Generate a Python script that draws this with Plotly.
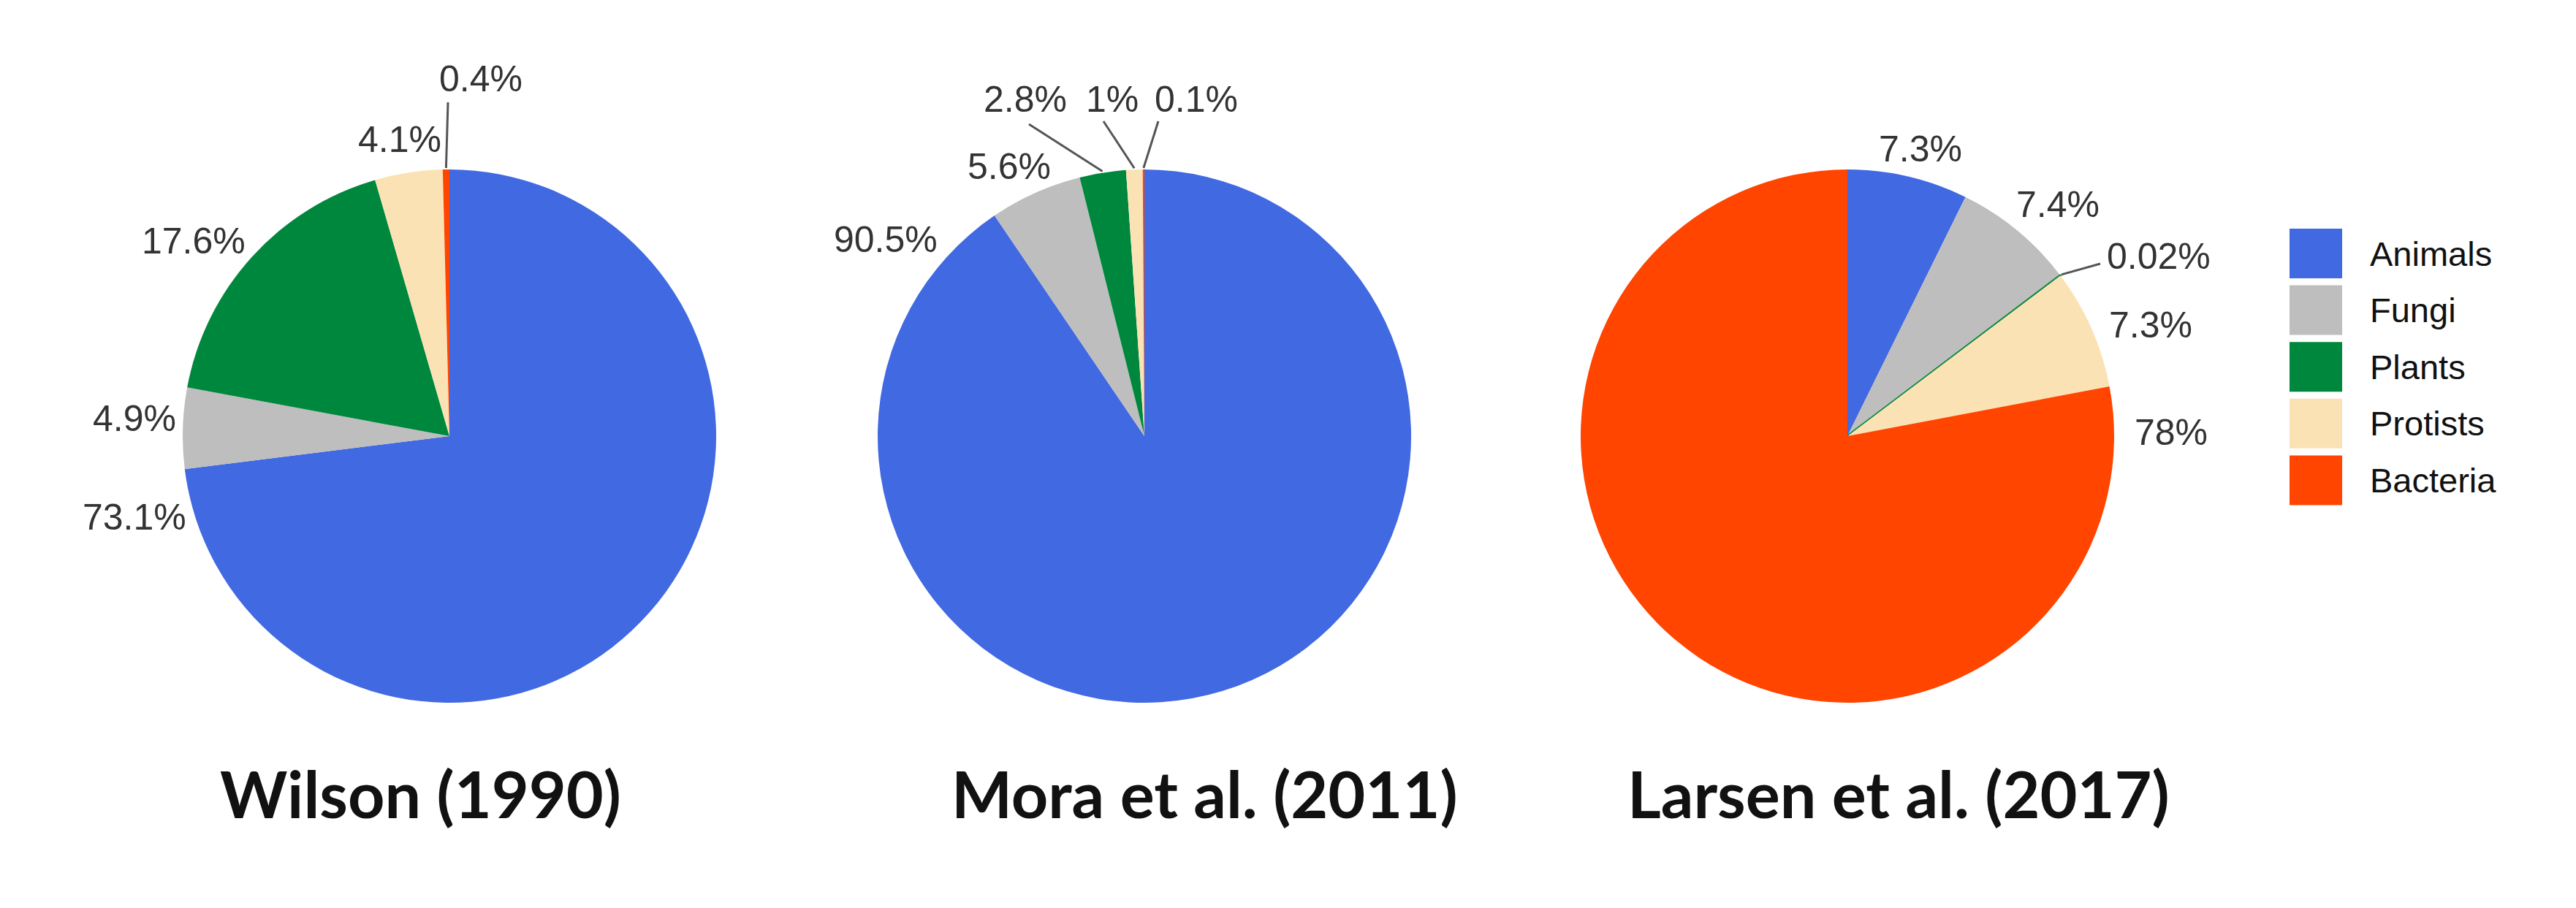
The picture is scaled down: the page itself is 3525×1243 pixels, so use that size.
import math
import plotly.graph_objects as go

# species share per kingdom, three estimates
categories = ["Animals", "Fungi", "Plants", "Protists", "Bacteria"]
colors = ["#4169E1", "#BEBEBE", "#00873E", "#FBE2B4", "#FF4500"]

studies = ["Wilson (1990)", "Mora et al. (2011)", "Larsen et al. (2017)"]
wilson_1990 = [73.1, 4.9, 17.6, 4.1, 0.4]
mora_2011 = [90.5, 5.6, 2.8, 1, 0.1]
larsen_2017 = [7.3, 7.4, 0.02, 7.3, 78]
all_values = [wilson_1990, mora_2011, larsen_2017]

W, H = 3525, 1243
pie_cx = [607, 1558, 2520]
pie_cy = 589
radius = 365
title_cx = [567, 1640, 2590]
title_y = 1078

# label centres, pixel offsets from each pie centre (Google-chart style placement)
label_offsets = [
    [(-431, 111), (-431, -24), (-350, -267), (-68, -406), (43, -489)],
    [(-354, -269), (-185, -369), (-163, -461), (-44, -461), (71, -461)],
    [(100, -393), (288, -317), (426, -246), (415, -152), (443, -5)],
]
# leader line end points for the tiny slices
leader_ends = [
    {4: (-2, -457)},
    {2: (-158, -427), 3: (-56, -431), 4: (19, -431)},
    {2: (346, -236)},
]

label_font = dict(family="Liberation Sans, Arial", size=50, color="#333333")


def px(x):
    return x / W


def py(y):
    return 1 - y / H


def slice_edge(values, k, cx, cy, r):
    total = sum(values)
    frac = (sum(values[:k]) + values[k] / 2) / total
    ang = frac * 2 * math.pi
    return cx + r * math.sin(ang), cy - r * math.cos(ang)


fig = go.Figure()

for i, values in enumerate(all_values):
    cx = pie_cx[i]
    # the 0.02% slice in Larsen is only visible as an outline
    line_w = [3 if (v / sum(values) < 0.001) else 0 for v in values]
    fig.add_trace(go.Pie(
        labels=categories,
        values=values,
        sort=False,
        direction="clockwise",
        rotation=0,
        marker=dict(colors=colors, line=dict(width=line_w, color=colors)),
        textinfo="none",
        domain=dict(x=[px(cx - radius), px(cx + radius)],
                    y=[py(pie_cy + radius), py(pie_cy - radius)]),
        showlegend=False,
        hovertemplate="%{label}: %{value}%<extra></extra>",
    ))

    for k, v in enumerate(values):
        dx, dy = label_offsets[i][k]
        fig.add_annotation(
            x=px(cx + dx), y=py(pie_cy + dy), xref="paper", yref="paper",
            text=f"{v:g}%", showarrow=False, font=label_font,
            xanchor="center", yanchor="middle",
        )
        if k in leader_ends[i]:
            x0, y0 = slice_edge(values, k, cx, pie_cy, radius + 2)
            ex, ey = leader_ends[i][k]
            fig.add_shape(type="line", xref="paper", yref="paper",
                          x0=px(x0), y0=py(y0), x1=px(cx + ex), y1=py(pie_cy + ey),
                          line=dict(color="#555555", width=3))

    fig.add_annotation(
        x=px(title_cx[i]), y=py(title_y), xref="paper", yref="paper",
        text=f"<b>{studies[i]}</b>", showarrow=False,
        font=dict(family="Lato", size=88, color="#111111"),
        xanchor="center", yanchor="middle",
    )

# legend drawn by hand so the swatches can be large
sw_x0, sw_w, sw_h = 3125, 72, 68
leg_y0, leg_step = 339, 77.6
for j, cat in enumerate(categories):
    yc = leg_y0 + j * leg_step
    fig.add_shape(type="rect", xref="paper", yref="paper",
                  x0=px(sw_x0), x1=px(sw_x0 + sw_w),
                  y0=py(yc - sw_h / 2), y1=py(yc + sw_h / 2),
                  fillcolor=colors[j], line=dict(width=0))
    fig.add_annotation(x=px(sw_x0 + sw_w + 36), y=py(yc),
                       xref="paper", yref="paper", text=cat, showarrow=False,
                       xanchor="left", yanchor="middle",
                       font=dict(family="Liberation Sans, Arial", size=47, color="#111111"))

fig.update_layout(
    width=W, height=H,
    margin=dict(l=0, r=0, t=0, b=0),
    paper_bgcolor="white",
    plot_bgcolor="white",
)

fig.write_html("out.html")
